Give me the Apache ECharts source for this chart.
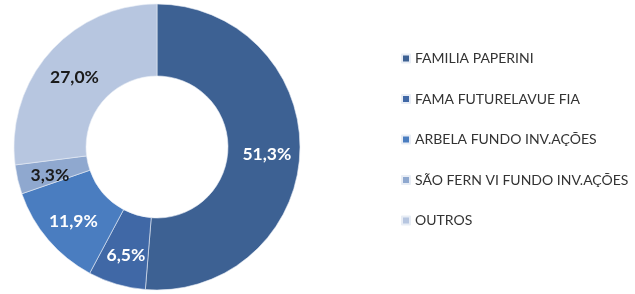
<!DOCTYPE html>
<html>
<head>
<meta charset="utf-8">
<script src="https://cdn.jsdelivr.net/npm/echarts@6/dist/echarts.min.js"></script>
<style>
  html, body { margin: 0; padding: 0; background: #fff; }
  #chart { width: 635px; height: 294px; }
</style>
</head>
<body>
<div id="chart"></div>
<script>
var names = ['FAMILIA PAPERINI', 'FAMA FUTURELAVUE FIA', 'ARBELA FUNDO INV.AÇÕES', 'SÃO FERN VI FUNDO INV.AÇÕES', 'OUTROS'];
var shares = [51.3, 6.5, 11.9, 3.3, 27.0];
var colors = ['#3d6193', '#4068a6', '#4a7dc0', '#8fa8cf', '#b7c6e0'];
var labelColors = ['#fff', '#fff', '#fff', '#1a1a1a', '#1a1a1a'];

var chart = echarts.init(document.getElementById('chart'));

var pieData = names.map(function (n, i) {
  return {
    name: n,
    value: shares[i],
    itemStyle: { color: colors[i] },
    label: { color: labelColors[i] }
  };
});

chart.setOption({
  animation: false,
  legend: {
    orient: 'vertical',
    left: 396,
    top: 45,
    itemWidth: 8,
    itemHeight: 8,
    itemGap: 23.5,
    icon: 'rect',
    data: names,
    textStyle: {
      fontFamily: 'Lato',
      fontSize: 14,
      lineHeight: 17,
      color: '#333'
    }
  },
  series: [{
    type: 'pie',
    center: [157, 147],
    radius: [71, 143],
    startAngle: 90,
    clockwise: true,
    data: pieData,
    itemStyle: { borderColor: '#e8edf5', borderWidth: 0.6 },
    label: {
      show: true,
      position: 'inside',
      fontFamily: 'Lato',
      fontSize: 17.5,
      fontWeight: 'bold',
      offset: [0, 3],
      formatter: function (p) {
        return p.value.toFixed(1).replace('.', ',') + '%';
      }
    },
    labelLine: { show: false }
  }]
});
</script>
</body>
</html>
